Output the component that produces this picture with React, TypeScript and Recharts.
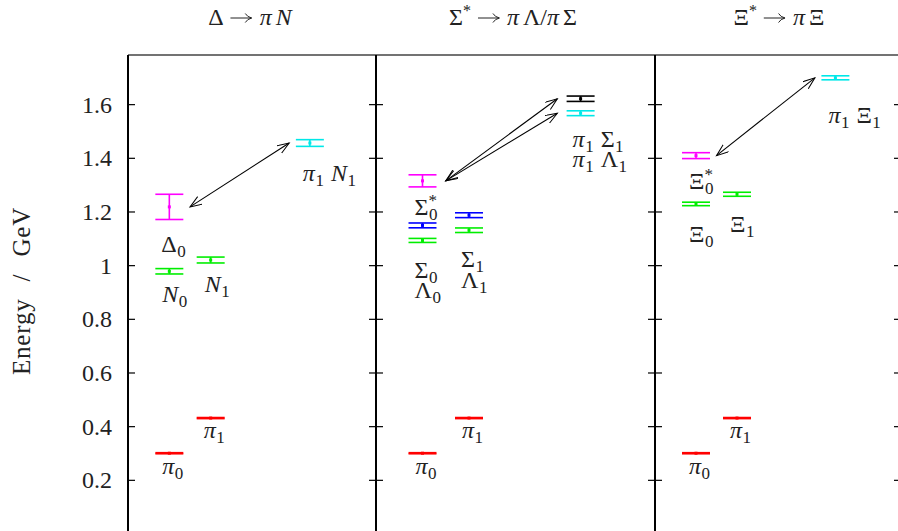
import React from 'react'
import { ComposedChart, Scatter, ErrorBar, Line, XAxis, YAxis } from 'recharts'

const Y_TICKS = [0.2, 0.4, 0.6, 0.8, 1, 1.2, 1.4, 1.6]
const Y_DOMAIN: [number, number] = [0, 1.785]
const X_DOMAIN: [number, number] = [0, 6]

// energy levels: x = column (1 rest frame, 2 moving frame, 4.4 two-particle), y = E / GeV, err = stat. error
const pions = [
  { name: 'pi0', x: 1, y: 0.301, err: 0.002 },
  { name: 'pi1', x: 2, y: 0.432, err: 0.002 },
]
const nucleons = [
  { name: 'N0', x: 1, y: 0.979, err: 0.01 },
  { name: 'N1', x: 2, y: 1.021, err: 0.011 },
]
const deltas = [{ name: 'D0', x: 1, y: 1.219, err: 0.047 }]
const piN = [{ name: 'pi1N1', x: 4.4, y: 1.457, err: 0.0125 }]

const sigmaStars = [{ name: 'Ss0', x: 1, y: 1.316, err: 0.0225 }]
const sigmas = [
  { name: 'S0', x: 1, y: 1.15, err: 0.009 },
  { name: 'S1', x: 2, y: 1.188, err: 0.009 },
]
const lambdas = [
  { name: 'L0', x: 1, y: 1.094, err: 0.0075 },
  { name: 'L1', x: 2, y: 1.132, err: 0.0085 },
]
const piSigma = [{ name: 'pi1S1', x: 4.4, y: 1.622, err: 0.01 }]
const piLambda = [{ name: 'pi1L1', x: 4.4, y: 1.568, err: 0.009 }]

const xiStars = [{ name: 'Xs0', x: 1, y: 1.41, err: 0.011 }]
const xis = [
  { name: 'X0', x: 1, y: 1.23, err: 0.0065 },
  { name: 'X1', x: 2, y: 1.266, err: 0.0075 },
]
const piXi = [{ name: 'pi1X1', x: 4.4, y: 1.7, err: 0.0075 }]

// decays: resonance -> two particle state
const deltaArrows = [['D0', 'pi1N1']]
const sigmaArrows = [['Ss0', 'pi1S1'], ['Ss0', 'pi1L1']]
const xiArrows = [['Xs0', 'pi1X1']]

// label text: [symbol, subscript, superscript?]
const LABELS: Record<string, string[][]> = {
  pi0: [['π', '0']],
  pi1: [['π', '1']],
  N0: [['N', '0']],
  N1: [['N', '1']],
  D0: [['Δ', '0']],
  pi1N1: [['π', '1'], ['N', '1']],
  Ss0: [['Σ', '0', '*']],
  S0: [['Σ', '0']],
  S1: [['Σ', '1']],
  L0: [['Λ', '0']],
  L1: [['Λ', '1']],
  pi1S1: [['π', '1'], ['Σ', '1']],
  pi1L1: [['π', '1'], ['Λ', '1']],
  Xs0: [['Ξ', '0', '*']],
  X0: [['Ξ', '0']],
  X1: [['Ξ', '1']],
  pi1X1: [['π', '1'], ['Ξ', '1']],
}

// label offset from the level centre in px
const LABEL_OFFSET: Record<string, [number, number]> = {
  pi0: [-7, 21], pi1: [-7, 20],
  N0: [-7, 31], N1: [-6, 32], D0: [-8, 45], pi1N1: [-7, 38],
  Ss0: [-8, 34], S0: [-8, 53], S1: [-8, 52], L0: [-8, 58], L1: [-8, 58],
  pi1S1: [-8, 48], pi1L1: [-8, 54],
  Xs0: [-7, 33], X0: [-7, 38], X1: [-7, 38], pi1X1: [-7, 45],
}

const ITALIC = new Set(['π', 'N'])
const FONT = '"Liberation Serif", "Times New Roman", serif'
const TEXT = '#222'
const RED = '#ff0000'
const GREEN = '#00ee00'
const BLUE = '#0000ff'
const MAGENTA = '#ff00ff'
const CYAN = '#00e8e8'
const BLACK = '#000000'

type Level = { name: string; x: number; y: number; err: number }

function MathLabel({ x, y, parts }: { x: number; y: number; parts: string[][] }) {
  return (
    <text x={x} y={y} fontSize={24} fill={TEXT} fontFamily={FONT}>
      {parts.map(([base, sub, sup], i) => (
        <React.Fragment key={i}>
          <tspan dx={i ? 7 : 0} dy={i ? -5 : 0} fontStyle={ITALIC.has(base) ? 'italic' : 'normal'}>
            {base}
          </tspan>
          {sup && (
            <tspan fontSize={17} dy={-9}>
              {sup}
            </tspan>
          )}
          <tspan fontSize={17} dx={sup ? -8 : 0.5} dy={sup ? 14 : 5}>
            {sub}
          </tspan>
        </React.Fragment>
      ))}
    </text>
  )
}

const levelShape = (color: string) => (p: any) => {
  const off = LABEL_OFFSET[p.payload.name]
  return (
    <g>
      <rect x={p.cx - 1.5} y={p.cy - 1.5} width={3} height={3} fill={color} />
      <MathLabel x={p.cx + off[0]} y={p.cy + off[1]} parts={LABELS[p.payload.name]} />
    </g>
  )
}

const leftTick = (withLabel: boolean) => (p: any) => (
  <g>
    <line x1={p.x} x2={p.x + 7} y1={p.y} y2={p.y} stroke="#000" strokeWidth={1.2} />
    {withLabel && (
      <text x={p.x - 16} y={p.y} dy={8} textAnchor="end" fontSize={24} fill={TEXT} fontFamily={FONT}>
        {p.payload.value}
      </text>
    )}
  </g>
)

const rightTick = (p: any) => (
  <line x1={p.x} x2={p.x - 7} y1={p.y} y2={p.y} stroke="#000" strokeWidth={1.2} />
)

type PanelCfg = {
  key: string
  plotLeft: number
  plotWidth: number
  series: [Level[], string][]
  arrows: string[][]
}

const PANELS: PanelCfg[] = [
  {
    key: 'delta',
    plotLeft: 128,
    plotWidth: 248,
    series: [[pions, RED], [nucleons, GREEN], [deltas, MAGENTA], [piN, CYAN]],
    arrows: deltaArrows,
  },
  {
    key: 'sigma',
    plotLeft: 376,
    plotWidth: 279,
    series: [[pions, RED], [lambdas, GREEN], [sigmas, BLUE], [sigmaStars, MAGENTA], [piLambda, CYAN], [piSigma, BLACK]],
    arrows: sigmaArrows,
  },
  {
    key: 'xi',
    plotLeft: 655,
    plotWidth: 246,
    series: [[pions, RED], [xis, GREEN], [xiStars, MAGENTA], [piXi, CYAN]],
    arrows: xiArrows,
  },
]

function Panel({ cfg, first }: { cfg: PanelCfg; first: boolean }) {
  const all = cfg.series.flatMap((s) => s[0])
  const find = (n: string) => all.find((l) => l.name === n) as Level
  const pad = 4
  const axisW = 60
  const marginLeft = first ? cfg.plotLeft - axisW : pad
  const chartLeft = first ? 0 : cfg.plotLeft - pad
  const width = first ? cfg.plotLeft + cfg.plotWidth + pad : cfg.plotWidth + 2 * pad
  const markerId = `arrow-${cfg.key}`

  return (
    <div style={{ position: 'absolute', left: chartLeft, top: 0 }}>
      <ComposedChart width={width} height={540} margin={{ top: 55, right: pad, bottom: 6, left: marginLeft }}>
        <defs>
          <marker
            id={markerId}
            markerWidth={14}
            markerHeight={10}
            refX={12}
            refY={4.5}
            orient="auto-start-reverse"
            markerUnits="userSpaceOnUse"
          >
            <path d="M0,0 L12,4.5 L0,9" fill="none" stroke="#000" strokeWidth={1} />
          </marker>
        </defs>
        <XAxis
          type="number"
          dataKey="x"
          domain={X_DOMAIN}
          orientation="top"
          mirror
          tick={false}
          tickLine={false}
          axisLine={{ stroke: '#444', strokeWidth: 1.5 }}
          allowDataOverflow
        />
        <YAxis
          yAxisId="l"
          type="number"
          dataKey="y"
          domain={Y_DOMAIN}
          ticks={Y_TICKS}
          width={axisW}
          mirror={!first}
          tickSize={0}
          tickMargin={0}
          tickLine={false}
          tick={leftTick(first)}
          axisLine={{ stroke: '#000', strokeWidth: 2 }}
          allowDataOverflow
        />
        <YAxis
          yAxisId="r"
          type="number"
          dataKey="y"
          orientation="right"
          domain={Y_DOMAIN}
          ticks={Y_TICKS}
          mirror
          tickSize={0}
          tickMargin={0}
          tickLine={false}
          tick={rightTick}
          axisLine={{ stroke: '#000', strokeWidth: 2 }}
          allowDataOverflow
        />
        {cfg.series.map(([levels, color], i) => (
          <Scatter
            key={i}
            data={levels}
            yAxisId="l"
            fill={color}
            shape={levelShape(color)}
            isAnimationActive={false}
          >
            <ErrorBar dataKey="err" direction="y" width={14} stroke={color} strokeWidth={1.6} isAnimationActive={false} />
          </Scatter>
        ))}
        {cfg.arrows.map(([from, to], i) => {
          const a = find(from)
          const b = find(to)
          const data = [
            { x: a.x + 0.5, y: a.y },
            { x: b.x - 0.5, y: b.y },
          ]
          return (
            <Line
              key={`a${i}`}
              data={data}
              dataKey="y"
              yAxisId="l"
              type="linear"
              stroke="#000"
              strokeWidth={1.1}
              dot={false}
              activeDot={false}
              markerStart={`url(#${markerId})`}
              markerEnd={`url(#${markerId})`}
              isAnimationActive={false}
            />
          )
        })}
      </ComposedChart>
    </div>
  )
}

// thin TeX-like \to arrow for the titles
function ToArrow() {
  return (
    <svg width={22} height={12} style={{ margin: '0 7px', verticalAlign: 'middle', position: 'relative', top: -1 }}>
      <line x1={0} y1={6} x2={21} y2={6} stroke={TEXT} strokeWidth={1} />
      <path d="M15,1.5 Q17,5 21.5,6 Q17,7 15,10.5" fill="none" stroke={TEXT} strokeWidth={1} />
    </svg>
  )
}

const titleStyle: React.CSSProperties = {
  position: 'absolute',
  top: 4,
  transform: 'translateX(-50%)',
  fontSize: 24,
  lineHeight: '26px',
  whiteSpace: 'nowrap',
  color: TEXT,
}
const supStyle: React.CSSProperties = { fontSize: 16, position: 'relative', top: -9 }
const gap: React.CSSProperties = { marginLeft: 4 }

export default function App() {
  return (
    <div
      style={{
        position: 'fixed',
        left: 0,
        top: 0,
        width: 898,
        height: 531,
        overflow: 'hidden',
        background: '#fff',
        fontFamily: FONT,
      }}
    >
      {PANELS.map((cfg, i) => (
        <Panel key={cfg.key} cfg={cfg} first={i === 0} />
      ))}
      <div style={{ ...titleStyle, left: 250 }}>
        Δ<ToArrow /><i>π</i><i style={gap}>N</i>
      </div>
      <div style={{ ...titleStyle, left: 513 }}>
        Σ<span style={supStyle}>*</span><ToArrow /><i>π</i><span style={gap}>Λ/</span><i>π</i><span style={gap}>Σ</span>
      </div>
      <div style={{ ...titleStyle, left: 779 }}>
        Ξ<span style={supStyle}>*</span><ToArrow /><i>π</i><span style={gap}>Ξ</span>
      </div>
      <div
        style={{
          position: 'absolute',
          left: 22,
          top: 291,
          transform: 'translate(-50%, -50%) rotate(-90deg)',
          fontSize: 25,
          letterSpacing: 0.8,
          wordSpacing: 10,
          whiteSpace: 'nowrap',
          color: TEXT,
        }}
      >
        Energy / GeV
      </div>
    </div>
  )
}
